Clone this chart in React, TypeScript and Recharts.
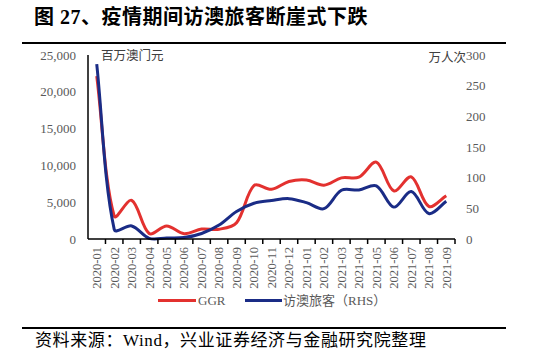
import React from 'react';
import { LineChart, Line, XAxis, YAxis } from 'recharts';

const months = [
  '2020-01', '2020-02', '2020-03', '2020-04', '2020-05', '2020-06', '2020-07',
  '2020-08', '2020-09', '2020-10', '2020-11', '2020-12', '2021-01', '2021-02',
  '2021-03', '2021-04', '2021-05', '2021-06', '2021-07', '2021-08', '2021-09',
];
// 百万澳门元
const ggr = [
  22126, 3104, 5257, 754, 1764, 716, 1344, 1330, 2211, 7270, 6748, 7818,
  8024, 7312, 8306, 8402, 10445, 6535, 8444, 4442, 5880,
];
// 万人次
const visitors = [
  285, 15.6, 21.3, 1.1, 1.6, 2.3, 9.0, 22.7, 44.9, 58.2, 62.7, 65.8,
  59.3, 49.4, 79.4, 79.9, 86.7, 52.0, 77.3, 41.5, 61.4,
];
const leftTicks = [0, 5000, 10000, 15000, 20000, 25000];
const rightTicks = [0, 50, 100, 150, 200, 250, 300];

const data = months.map((m, i) => ({ month: m, ggr: ggr[i], visitors: visitors[i] }));

const RED = '#E3312F';
const BLUE = '#1A2C86';
const GREY = '#595959';
const SERIF = '"Liberation Serif", "Noto Sans CJK SC", serif';
const CJK = '"Noto Sans CJK SC", sans-serif';

const PLOT_W = 533 - 88 - 78;
const HALF = PLOT_W / months.length / 2;

// excel-like smoothing: tangents weighted by neighbouring segment lengths
const smoothCurve = (context: any) => {
  let pts: number[][] = [];
  const dist = (a: number[], b: number[]) => Math.hypot(b[0] - a[0], b[1] - a[1]) || 1e-6;
  return {
    areaStart() {},
    areaEnd() {},
    lineStart() {
      pts = [];
    },
    lineEnd() {
      if (!pts.length) return;
      const n = pts.length;
      const outC: number[][] = [];
      const inC: number[][] = [];
      for (let i = 0; i < n; i++) {
        const p0 = pts[i - 1] || pts[i];
        const p1 = pts[i];
        const p2 = pts[i + 1] || pts[i];
        const d01 = i > 0 ? dist(p0, p1) : 0;
        const d12 = i < n - 1 ? dist(p1, p2) : 0;
        const tot = d01 + d12 || 1;
        const tx = p2[0] - p0[0];
        const ty = p2[1] - p0[1];
        const f = 0.33;
        outC[i] = [p1[0] + tx * f * (d12 / tot), p1[1] + ty * f * (d12 / tot)];
        inC[i] = [p1[0] - tx * f * (d01 / tot), p1[1] - ty * f * (d01 / tot)];
      }
      context.moveTo(pts[0][0], pts[0][1]);
      for (let i = 0; i < n - 1; i++) {
        context.bezierCurveTo(outC[i][0], outC[i][1], inC[i + 1][0], inC[i + 1][1], pts[i + 1][0], pts[i + 1][1]);
      }
    },
    point(x: number, y: number) {
      pts.push([+x, +y]);
    },
  };
};

const MonthTick = (props: any) => {
  const { x, y, payload } = props;
  return (
    <g>
      <line x1={x + HALF} x2={x + HALF} y1={y - 8} y2={y - 3} stroke="#000" strokeWidth={1.5} />
      <text
        x={x}
        y={y}
        dy="0.35em"
        textAnchor="end"
        transform={`rotate(-90, ${x}, ${y})`}
        fill={GREY}
        fontSize={12.5}
        fontFamily={SERIF}
      >
        {payload.value}
      </text>
    </g>
  );
};

const fmt = (v: number) => v.toLocaleString('en-US');

export default function App() {
  return (
    <div style={{ position: 'absolute', left: 0, top: 0, width: 533, height: 358, background: '#fff' }}>
      <div
        style={{
          position: 'absolute', left: 34, top: 7, fontSize: 20, lineHeight: '20px', letterSpacing: 0.5,
          fontWeight: 'bold', fontFamily: SERIF, color: '#000', whiteSpace: 'nowrap',
        }}
      >
        图 27、疫情期间访澳旅客断崖式下跌
      </div>
      <div style={{ position: 'absolute', left: 22, top: 42, width: 484, height: 2, background: '#000' }} />

      <LineChart
        width={533}
        height={358}
        data={data}
        margin={{ top: 55, right: 38, bottom: 59, left: 28 }}
      >
        <XAxis
          dataKey="month"
          interval={0}
          padding={{ left: HALF, right: HALF }}
          height={60}
          tickLine={false}
          tickSize={0}
          tickMargin={8}
          axisLine={{ stroke: '#000', strokeWidth: 1.5 }}
          tick={<MonthTick />}
        />
        <YAxis
          yAxisId="left"
          width={60}
          domain={[0, 25000]}
          ticks={leftTicks}
          tickFormatter={fmt}
          tickLine={false}
          tickMargin={6}
          axisLine={{ stroke: '#000', strokeWidth: 1.5 }}
          tick={{ fill: GREY, fontSize: 13, fontFamily: SERIF }}
        />
        <YAxis
          yAxisId="right"
          orientation="right"
          width={40}
          domain={[0, 300]}
          ticks={rightTicks}
          tickLine={false}
          tickMargin={5}
          axisLine={false}
          tick={{ fill: GREY, fontSize: 13, fontFamily: SERIF, textAnchor: 'start' }}
        />
        <Line
          yAxisId="left"
          dataKey="ggr"
          type={smoothCurve as any}
          stroke={RED}
          strokeWidth={3}
          dot={false}
          activeDot={false}
          isAnimationActive={false}
        />
        <Line
          yAxisId="right"
          dataKey="visitors"
          type={smoothCurve as any}
          stroke={BLUE}
          strokeWidth={3}
          dot={false}
          activeDot={false}
          isAnimationActive={false}
        />
      </LineChart>

      <div
        style={{
          position: 'absolute', left: 101, top: 48, fontSize: 12.5, lineHeight: '14px',
          fontFamily: CJK, color: '#404040', whiteSpace: 'nowrap',
        }}
      >
        百万澳门元
      </div>
      <div
        style={{
          position: 'absolute', right: 533 - 466, top: 50, fontSize: 12.5, lineHeight: '14px',
          fontFamily: CJK, color: '#404040', whiteSpace: 'nowrap',
        }}
      >
        万人次
      </div>

      <div style={{ position: 'absolute', left: 158, top: 299, width: 38, height: 3, background: RED }} />
      <div
        style={{
          position: 'absolute', left: 198, top: 293, fontSize: 13, lineHeight: '15px',
          fontFamily: SERIF, color: GREY, whiteSpace: 'nowrap',
        }}
      >
        GGR
      </div>
      <div style={{ position: 'absolute', left: 245, top: 299, width: 37, height: 3, background: BLUE }} />
      <div
        style={{
          position: 'absolute', left: 283, top: 293, fontSize: 13, lineHeight: '15px',
          fontFamily: SERIF, color: GREY, whiteSpace: 'nowrap',
        }}
      >
        访澳旅客（RHS）
      </div>

      <div style={{ position: 'absolute', left: 22, top: 327, width: 484, height: 2, background: '#000' }} />
      <div
        style={{
          position: 'absolute', left: 35, top: 332, fontSize: 17, lineHeight: '17px', letterSpacing: 0.6,
          fontFamily: SERIF, color: '#000', whiteSpace: 'nowrap',
        }}
      >
        资料来源：Wind，兴业证券经济与金融研究院整理
      </div>
    </div>
  );
}
